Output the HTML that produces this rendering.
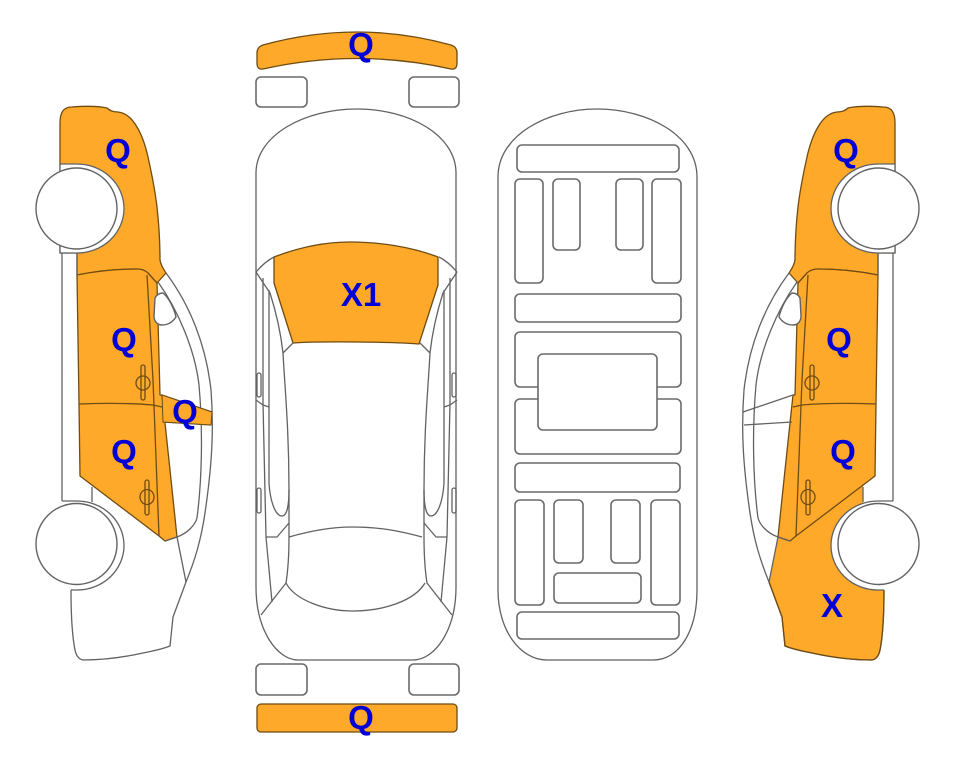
<!DOCTYPE html>
<html>
<head>
<meta charset="utf-8">
<style>
html,body{margin:0;padding:0;background:#fff;width:963px;height:768px;overflow:hidden}
svg{display:block}
.o{fill:#ffa92b;stroke:#6e4c12;stroke-width:1.3;stroke-linejoin:round}
.l{fill:none;stroke:#626262;stroke-width:1.3;stroke-linejoin:round}
.w{fill:#fff;stroke:#626262;stroke-width:1.4}
.r{fill:#fff;stroke:#6a6a6a;stroke-width:1.6}
.h{fill:none;stroke:#6e4c12;stroke-width:1.3}
text{font-family:"Liberation Sans",sans-serif;font-weight:bold;font-size:33px;fill:#0000d6;text-anchor:middle}
</style>
</head>
<body>
<svg width="963" height="768" viewBox="0 0 963 768" xmlns="http://www.w3.org/2000/svg">
<defs>
<g id="sideBase">
  <!-- hood / front wing -->
  <path class="o" d="M60 164V123C60 113 63 107 72 107C85 106 98 106 107 108C110 111 113 112 118 112C127 113 133 120 137 127C143 137 146 148 148 157C152 175 155 190 157 207C159 225 160 245 160 260C161 266 164 270 166 273L157 283L148 273C144 270 141 269 137 269C118 269 97 271 77 275V253H60Z"/>
  <!-- door panels -->
  <path class="o" d="M77 275C97 271 118 269 137 269C141 269 145 270 148 273L157 283L160 395L162 395L170 470L177 537L165 541L159 536L80 476L79 404Z"/>
  <path class="h" d="M79 404C105 403 130 403 153 405L162 407M147 275L153 380L159 536M148 273L157 283"/>
  <!-- front arch -->
  <path d="M60 164H77A47 44.5 0 0 1 77 253H60Z" fill="#fff" stroke="#626262" stroke-width="1.3"/>
  <circle class="w" cx="76.5" cy="208.5" r="40.5"/>
  <!-- rear arch -->
  <path d="M62 501H77A47 44.5 0 0 1 77 590H71" fill="#fff" stroke="#626262" stroke-width="1.3"/>
  <circle class="w" cx="76.5" cy="544" r="40.5"/>
  <!-- body lines -->
  <path class="l" d="M62 253V501M77 253V275M92 487V502"/>
  <path class="l" d="M166 273C190 305 206 345 211 390C214 430 212 465 205 513C201 540 195 560 186 582L173 617L170 646C160 650 152 651 143 653C125 657 105 660 83 660C78 659 76 655 75 650C72 635 71 610 71 590"/>
  <path class="l" d="M158 282C178 310 195 350 199 385C203 430 202 480 197 518C195 525 188 533 177 537L165 541"/>
  <path class="l" d="M177 537L186 582"/>
  <!-- mirror / quarter glass -->
  <path class="w" d="M155 298C157 294 160 293 163 293C169 298 174 308 176 317C172 323 167 325 162 325C157 325 154 321 154 316Z"/>
  <path class="l" d="M162 395L212 412M163 422L211 425"/>
  <!-- handles -->
  <g class="h">
    <rect x="141" y="365" width="4" height="35" rx="2"/>
    <ellipse cx="143" cy="383" rx="7" ry="7"/>
    <rect x="145" y="480" width="4" height="35" rx="2"/>
    <ellipse cx="147" cy="497" rx="7" ry="7.5"/>
  </g>
</g>
<g id="topHalf">
  <path class="l" d="M256 272C262 265 268 260 274 257"/>
  <path class="l" d="M256 272L270 293C277 315 281 335 283 353L293 343"/>
  <path class="l" d="M283 353C285 390 289 430 289 490L289 537C289 555 288 570 286 583L261 615"/>
  <path class="l" d="M263 278V403L266 537L272 602"/>
  <path class="l" d="M269 290V483C270 500 275 516 282 516C287 516 289 505 289 490"/>
  <path class="l" d="M256 400L263 405L269 407M266 537H277L289 523"/>
  <rect class="l" x="257" y="373" width="4" height="24" rx="2"/>
  <rect class="l" x="257" y="488" width="4" height="25" rx="2"/>
</g>
</defs>

<!-- left side view -->
<use href="#sideBase"/>
<path d="M162 395L212 412L211 425L163 422Z" fill="#ffa92b" stroke="#6e4c12" stroke-width="1"/>

<!-- front bumper -->
<path class="o" d="M257 53Q257 47 263 45Q357 19 451 45Q457 47 457 53V63Q457 70 451 69Q357 48 263 69Q257 70 257 63Z"/>
<rect class="r" x="256" y="77" width="51" height="30" rx="5"/>
<rect class="r" x="409" y="77" width="50" height="30" rx="5"/>

<!-- top view body -->
<path class="l" d="M256 173C256 135 305 109 357 109C409 109 456 135 456 173V587C456 630 435 660 413 660H298C277 660 256 630 256 587Z"/>
<path class="o" d="M274 257C300 247 325 242 350 242C380 242 412 247 438 257V285L419 344C395 342 320 341 293 343L274 283Z"/>
<use href="#topHalf"/>
<use href="#topHalf" transform="translate(713 0) scale(-1 1)"/>
<path class="l" d="M289 537C310 531 330 527 352 527C380 527 400 531 422 537"/>
<path class="l" d="M286 583C295 600 325 611 353 611C385 611 415 600 425 583"/>

<!-- rear bumper -->
<rect class="r" x="256" y="664" width="51" height="31" rx="5"/>
<rect class="r" x="409" y="664" width="50" height="31" rx="5"/>
<rect class="o" x="257" y="704" width="200" height="28" rx="4"/>

<!-- underside -->
<path class="l" d="M498 177C498 135 548 109 597 109C647 109 697 135 697 177V590C697 630 680 660 653 660H547C520 660 498 630 498 590Z"/>
<g class="r">
  <rect x="517" y="145" width="162" height="27" rx="5"/>
  <rect x="515" y="179" width="28" height="104" rx="5"/>
  <rect x="553" y="179" width="27" height="71" rx="5"/>
  <rect x="616" y="179" width="27" height="71" rx="5"/>
  <rect x="652" y="179" width="29" height="104" rx="5"/>
  <rect x="515" y="294" width="166" height="28" rx="5"/>
  <rect x="515" y="332" width="166" height="55" rx="5"/>
  <rect x="515" y="399" width="166" height="55" rx="5"/>
  <rect x="538" y="354" width="119" height="76" rx="5"/>
  <rect x="515" y="463" width="165" height="29" rx="5"/>
  <rect x="515" y="500" width="29" height="105" rx="5"/>
  <rect x="554" y="500" width="29" height="63" rx="5"/>
  <rect x="611" y="500" width="29" height="63" rx="5"/>
  <rect x="651" y="500" width="29" height="105" rx="5"/>
  <rect x="554" y="573" width="87" height="30" rx="5"/>
  <rect x="517" y="612" width="162" height="27" rx="5"/>
</g>

<!-- right side view -->
<g transform="translate(955 0) scale(-1 1)">
  <path d="M159 536L92 485V510L71 590C71 610 72 635 75 650C76 655 78 659 83 660C105 660 125 657 143 653C152 651 160 650 170 646L173 617L186 582L177 537L165 541Z" fill="#ffa92b"/>
  <use href="#sideBase"/>
  <path class="h" d="M71 590C71 610 72 635 75 650C76 655 78 659 83 660C105 660 125 657 143 653C152 651 160 650 170 646L173 617L186 582"/>
</g>

<!-- labels -->
<text x="118" y="162">Q</text>
<text x="124" y="351">Q</text>
<text x="185" y="423">Q</text>
<text x="124" y="463">Q</text>
<text x="361" y="56">Q</text>
<text x="361" y="306">X1</text>
<text x="361" y="729">Q</text>
<text x="846" y="162">Q</text>
<text x="839" y="351">Q</text>
<text x="843" y="463">Q</text>
<text x="832" y="617">X</text>
</svg>
</body>
</html>
